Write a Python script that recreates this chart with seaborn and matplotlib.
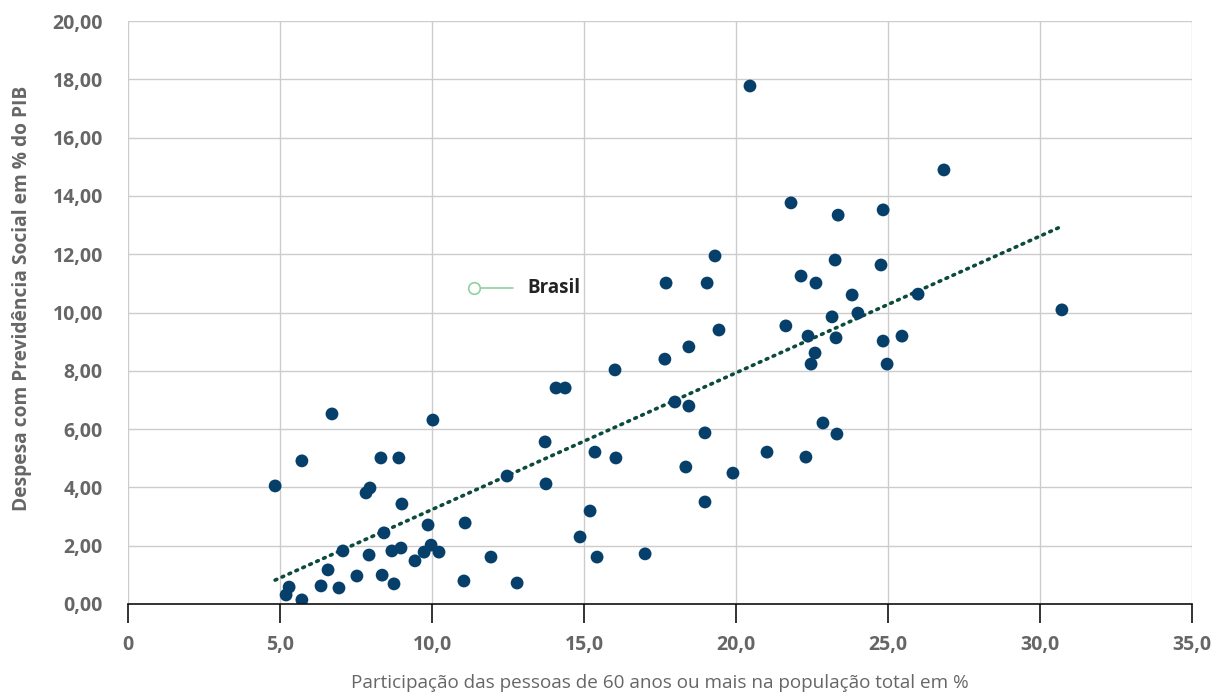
import numpy as np
import pandas as pd
import matplotlib
matplotlib.use("Agg")
import matplotlib.pyplot as plt
import seaborn as sns

# Data
idosos_pct = [4.84, 5.72, 5.30, 5.20, 5.72, 6.71, 6.58, 6.35, 6.94, 7.07,
              7.53, 7.83, 7.96, 7.93, 8.32, 8.42, 8.36, 8.68, 8.75, 8.91,
              9.01, 8.98, 9.44, 9.74, 9.87, 9.97, 10.23, 10.03, 11.09, 11.05,
              11.94, 12.47, 12.80, 13.72, 13.75, 14.08, 14.38, 14.87, 15.20, 15.36,
              15.43, 16.02, 16.05, 17.01, 17.66, 17.70, 17.99, 18.45, 18.45, 18.35,
              18.98, 18.98, 19.05, 19.31, 19.44, 19.90, 20.46, 21.02, 21.64, 21.81,
              22.14, 22.30, 22.37, 22.47, 22.60, 22.63, 22.86, 23.16, 23.26, 23.29,
              23.32, 23.36, 23.82, 24.01, 24.77, 24.84, 24.84, 24.97, 25.46, 25.99,
              26.84, 30.72]
despesa_pib = [4.05, 4.91, 0.58, 0.31, 0.14, 6.52, 1.17, 0.62, 0.55, 1.82,
               0.96, 3.81, 3.98, 1.68, 5.01, 2.44, 0.99, 1.82, 0.69, 5.01,
               3.43, 1.92, 1.48, 1.78, 2.71, 2.02, 1.78, 6.31, 2.78, 0.79,
               1.61, 4.39, 0.72, 5.56, 4.12, 7.41, 7.41, 2.30, 3.19, 5.21,
               1.61, 8.03, 5.01, 1.72, 8.40, 11.01, 6.93, 8.82, 6.79, 4.70,
               5.87, 3.50, 11.01, 11.94, 9.40, 4.49, 17.77, 5.21, 9.54, 13.76,
               11.25, 5.04, 9.19, 8.23, 8.61, 11.01, 6.21, 9.85, 11.80, 9.13,
               5.83, 13.34, 10.60, 9.98, 11.63, 9.02, 13.52, 8.23, 9.19, 10.63,
               14.89, 10.09]
# trend line as drawn in the reference (start / end)
trend_x = [4.84, 30.66]
trend_y = [0.82, 12.93]
brasil_x = [11.38]
brasil_y = [10.84]
x_ticks = [0, 5, 10, 15, 20, 25, 30, 35]
x_tick_labels = ["0", "5,0", "10,0", "15,0", "20,0", "25,0", "30,0", "35,0"]
y_ticks = [0, 2, 4, 6, 8, 10, 12, 14, 16, 18, 20]
y_tick_labels = ["0,00", "2,00", "4,00", "6,00", "8,00", "10,00", "12,00",
                 "14,00", "16,00", "18,00", "20,00"]

df = pd.DataFrame({"x": idosos_pct, "y": despesa_pib})

sns.set_theme(style="white")
plt.rcParams["font.family"] = ["Open Sans", "DejaVu Sans"]

fig = plt.figure(figsize=(12.14, 6.93), dpi=100)
ax = fig.add_axes([128 / 1214, 1 - 604 / 693, (1192 - 128) / 1214, (604 - 21) / 693])

grid_c = "#cccccc"
for xv in x_ticks:
    ax.axvline(xv, color=grid_c, lw=1.0, zorder=0)
for yv in y_ticks:
    ax.axhline(yv, color=grid_c, lw=1.0, zorder=0)

sns.lineplot(x=trend_x, y=trend_y, ax=ax, color="#0b4a3c", lw=2.6, zorder=2,
             linestyle=(0, (0.5, 1.6)), dash_capstyle="round")

sns.scatterplot(data=df, x="x", y="y", ax=ax, color="#063f6a", s=85,
                edgecolor="none", zorder=3)

# Brasil
ax.plot([brasil_x[0], brasil_x[0] + 1.3], [brasil_y[0], brasil_y[0]],
        color="#8fd19e", lw=1.2, zorder=3)
ax.scatter(brasil_x, brasil_y, s=70, facecolor="white", edgecolor="#8fd19e",
           linewidth=1.2, zorder=4)
ax.text(brasil_x[0] + 1.75, brasil_y[0], "Brasil", fontsize=13.5, fontweight="bold",
        color="#222222", va="center", ha="left")

ax.set_xlim(0, 35)
ax.set_ylim(0, 20)
ax.set_xticks(x_ticks)
ax.set_xticklabels(x_tick_labels)
ax.set_yticks(y_ticks)
ax.set_yticklabels(y_tick_labels)

for s in ["top", "right", "left"]:
    ax.spines[s].set_visible(False)
ax.spines["bottom"].set_color("#111111")
ax.spines["bottom"].set_linewidth(1.2)
ax.spines["bottom"].set_zorder(5)

ax.tick_params(axis="x", which="both", bottom=True, length=14, width=1.2,
               color="#111111", pad=8, labelsize=14, labelcolor="#666666")
ax.tick_params(axis="y", which="both", left=False, pad=12, labelsize=14,
               labelcolor="#666666")
for lab in ax.get_xticklabels() + ax.get_yticklabels():
    lab.set_fontweight("bold")

ax.set_xlabel("Participação das pessoas de 60 anos ou mais na população total em %",
              fontsize=13.6, color="#666666", labelpad=14)
ax.set_ylabel("Despesa com Previdência Social em % do PIB", fontsize=13.8,
              color="#666666", fontweight="bold")
ax.yaxis.set_label_coords(-0.090, 0.525)

fig.savefig("out.png", dpi=100)
